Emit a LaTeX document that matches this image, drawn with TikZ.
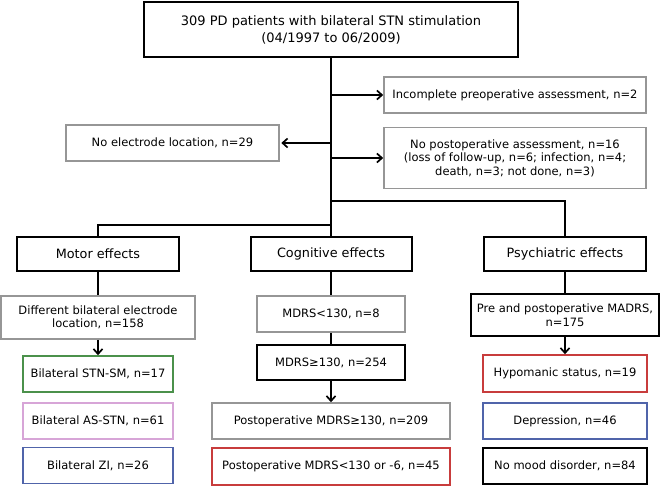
\documentclass[tikz,border=0pt]{standalone}
\usepackage{fontspec}
\setmainfont{DejaVu Sans}
\usepackage{xcolor}
\usetikzlibrary{arrows.meta}
\definecolor{bxGray}{RGB}{150,150,150}
\definecolor{bxGreen}{RGB}{75,145,75}
\definecolor{bxPink}{RGB}{215,165,215}
\definecolor{bxBlue}{RGB}{80,100,170}
\definecolor{bxRed}{RGB}{200,60,60}

\begin{document}
\begin{tikzpicture}[
  x=1pt,y=-1pt,
  font=\fontsize{11.5}{13.5}\selectfont,
  box/.style={draw=black,line width=1.6pt,align=center,inner sep=2pt,fill=white},
  grey/.style={box,draw=bxGray},
  head/.style={box,line width=2pt,font=\fontsize{12.8}{15}\selectfont},
  wire/.style={line width=1.9pt},
  flow/.style={wire,-{Straight Barb[length=5pt,width=9pt,line width=1.7pt]}},
]
\useasboundingbox (0,0) rectangle (660,489);

% cohort and exclusions
\node[box,line width=2.5pt,minimum width=374,minimum height=55,
      font=\fontsize{13}{17}\selectfont] (top) at (331,29.5)
     {309 PD patients with bilateral STN stimulation\\ (04/1997 to 06/2009)};
\node[grey,minimum width=262,minimum height=36] (inc) at (515,95)
     {Incomplete preoperative assessment, n=2};
\node[grey,minimum width=213,minimum height=36] (noel) at (172.5,143)
     {No electrode location, n=29};
\node[grey,minimum width=262,minimum height=61] (nopost) at (515,158)
     {No postoperative assessment, n=16\\ (loss of follow-up, n=6; infection, n=4;\\ death, n=3; not done, n=3)};

% effect groups
\node[head,minimum width=162,minimum height=34] (motor) at (98,254) {Motor effects};
\node[head,minimum width=161,minimum height=34] (cog) at (331,254) {Cognitive effects};
\node[head,minimum width=162,minimum height=34] (psych) at (565,254) {Psychiatric effects};

% motor column
\node[grey,minimum width=194,minimum height=43] (diff) at (98,317.5)
     {Different bilateral electrode\\ location, n=158};
\node[box,draw=bxGreen,minimum width=150,minimum height=36] (stnsm) at (98,374) {Bilateral STN-SM, n=17};
\node[box,draw=bxPink,minimum width=150,minimum height=36] (asstn) at (98,421) {Bilateral AS-STN, n=61};
\node[box,draw=bxBlue,minimum width=150,minimum height=36] (zi) at (98,465.5) {Bilateral ZI, n=26};

% cognitive column
\node[grey,minimum width=148,minimum height=36] (mdrslo) at (331,314) {MDRS<130, n=8};
\node[box,minimum width=148,minimum height=35] (mdrshi) at (331,362.5) {MDRS≥130, n=254};
\node[grey,minimum width=238,minimum height=36] (posthi) at (331,421) {Postoperative MDRS≥130, n=209};
\node[box,draw=bxRed,minimum width=238,minimum height=37] (postlo) at (331,466.5) {Postoperative MDRS<130 or -6, n=45};

% psychiatric column
\node[box,minimum width=188,minimum height=42] (madrs) at (565,315)
     {Pre and postoperative MADRS,\\ n=175};
\node[box,draw=bxRed,minimum width=164,minimum height=37] (hypo) at (565,373.5) {Hypomanic status, n=19};
\node[box,draw=bxBlue,minimum width=164,minimum height=36] (depr) at (565,421) {Depression, n=46};
\node[box,minimum width=164,minimum height=36] (nomood) at (565,466) {No mood disorder, n=84};

% trunk
\coordinate (jinc) at (331,95);
\coordinate (jnoel) at (331,143);
\coordinate (jpost) at (331,158);
\coordinate (jpsy) at (331,201);
\coordinate (jmot) at (331,225);
\draw[wire] (top.south) -- (cog.north);
\draw[flow] (jinc) -- (inc.west);
\draw[flow,shorten >=1.5pt] (jnoel) -- (noel.east);
\draw[flow] (jpost) -- (nopost.west);
\draw[wire] (jpsy) -| (psych.north);
\draw[wire] (jmot) -| (motor.north);

% column links
\draw[wire] (motor) -- (diff);
\draw[flow] (diff) -- (stnsm);
\draw[wire] (cog) -- (mdrslo);
\draw[wire] (mdrslo) -- (mdrshi);
\draw[flow] (mdrshi) -- (posthi);
\draw[wire] (psych) -- (madrs);
\draw[flow] (madrs) -- (hypo);
\end{tikzpicture}
\end{document}
